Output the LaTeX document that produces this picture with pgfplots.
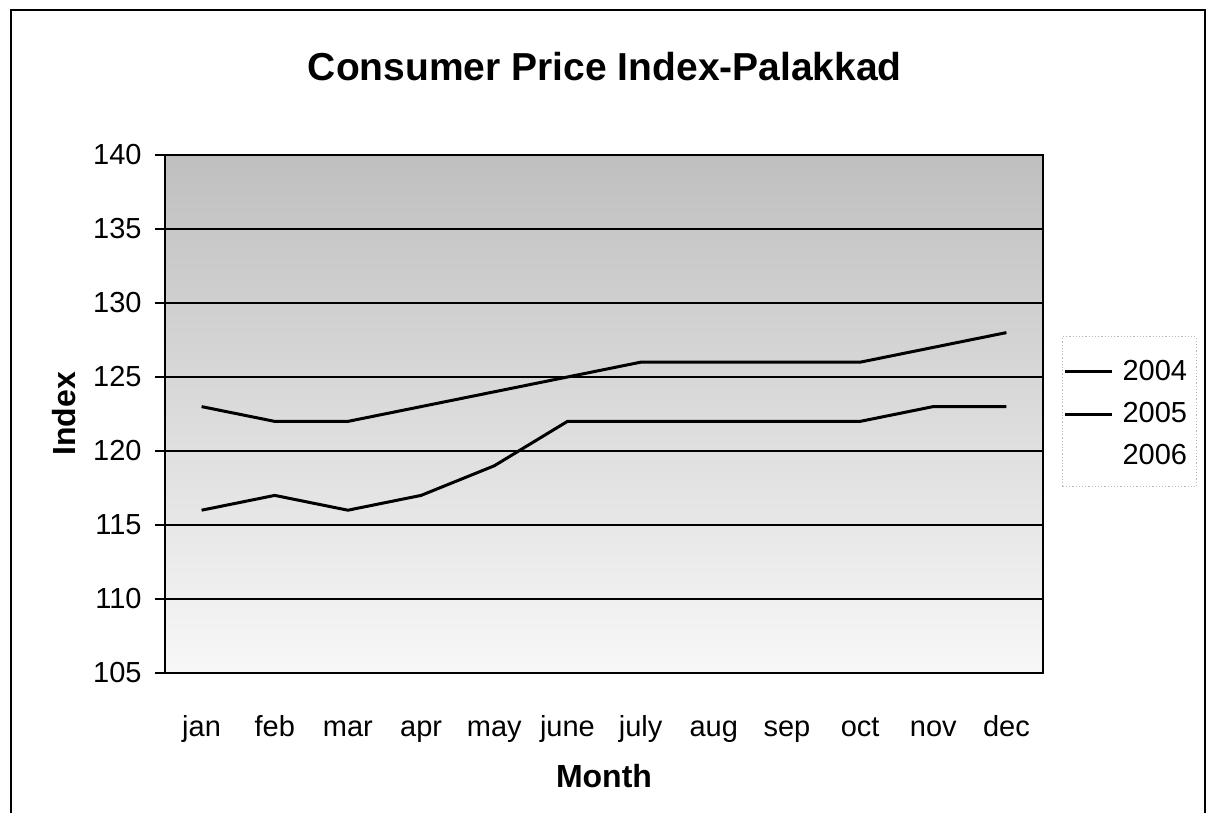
\documentclass[border=0pt]{standalone}
\usepackage{pgfplots}
\pgfplotsset{compat=1.18}
\usepackage{fontspec}
\setmainfont{Liberation Sans}
\begin{document}
\begin{tikzpicture}
\useasboundingbox (0,0) rectangle (606.5pt,406.5pt);
\draw[line width=1pt] (5.5pt,0pt) -- (5.5pt,401.5pt) -- (602.5pt,401.5pt) -- (602.5pt,0pt);
\begin{axis}[
  at={(82.5pt,70pt)}, anchor=south west,
  scale only axis, width=439pt, height=259pt,
  xmin=-0.5, xmax=11.5, ymin=105, ymax=140,
  xtick={0,...,11},
  xticklabels={jan,feb,mar,apr,may,june,july,aug,sep,oct,nov,dec},
  ytick={105,110,...,140},
  /pgf/number format/assume math mode=true,
  ymajorgrids, grid style={black, line width=0.6pt},
  axis line style={black, line width=0.6pt},
  xtick style={draw=none},
  ytick style={black, line width=0.6pt},
  tick align=outside, ytick pos=left, major tick length=5pt,
  tick label style={font=\fontsize{14.5}{17}\selectfont},
  xticklabel style={anchor=base, inner sep=0pt, yshift=-26.5pt},
  yticklabel style={anchor=east, inner sep=0pt, xshift=-6.5pt},
  axis background/.style={shade, top color=gray!50, middle color=gray!28, bottom color=gray!6},
  every axis title shift=0pt,
  title={Consumer Price Index-Palakkad},
  title style={at={(axis description cs:0.501,1.17)}, anchor=center, font=\bfseries\fontsize{19.5}{23}\selectfont},
  xlabel={Month},
  xlabel style={at={(axis description cs:0.5,-0.199)}, anchor=center, font=\bfseries\fontsize{16}{19}\selectfont},
  ylabel={Index},
  ylabel style={at={(axis description cs:-0.115,0.5)}, anchor=center, font=\bfseries\fontsize{16}{19}\selectfont},
  clip=false,
  legend cell align=left,
  legend image code/.code={\draw[#1] (0pt,0pt) -- (23.5pt,0pt);},
  legend style={at={(axis description cs:1.096,0.5)}, anchor=center, draw=none, fill=none,
    inner sep=0pt, row sep=5.5pt, column sep=2.5pt, font=\fontsize{14.5}{17}\selectfont},
]
\draw[gray!55, densely dotted, line width=0.6pt] (rel axis cs:1.022,0.36) rectangle (rel axis cs:1.175,0.649);
\addplot[black, line width=1.5pt] coordinates {
  (0,116) (1,117) (2,116) (3,117) (4,119) (5,122) (6,122) (7,122) (8,122) (9,122) (10,123) (11,123)};
\addlegendentry{2004}
\addplot[black, line width=1.5pt] coordinates {
  (0,123) (1,122) (2,122) (3,123) (4,124) (5,125) (6,126) (7,126) (8,126) (9,126) (10,127) (11,128)};
\addlegendentry{2005}
\addlegendimage{white, line width=1.5pt}
\addlegendentry{2006}
\end{axis}
\end{tikzpicture}
\end{document}
